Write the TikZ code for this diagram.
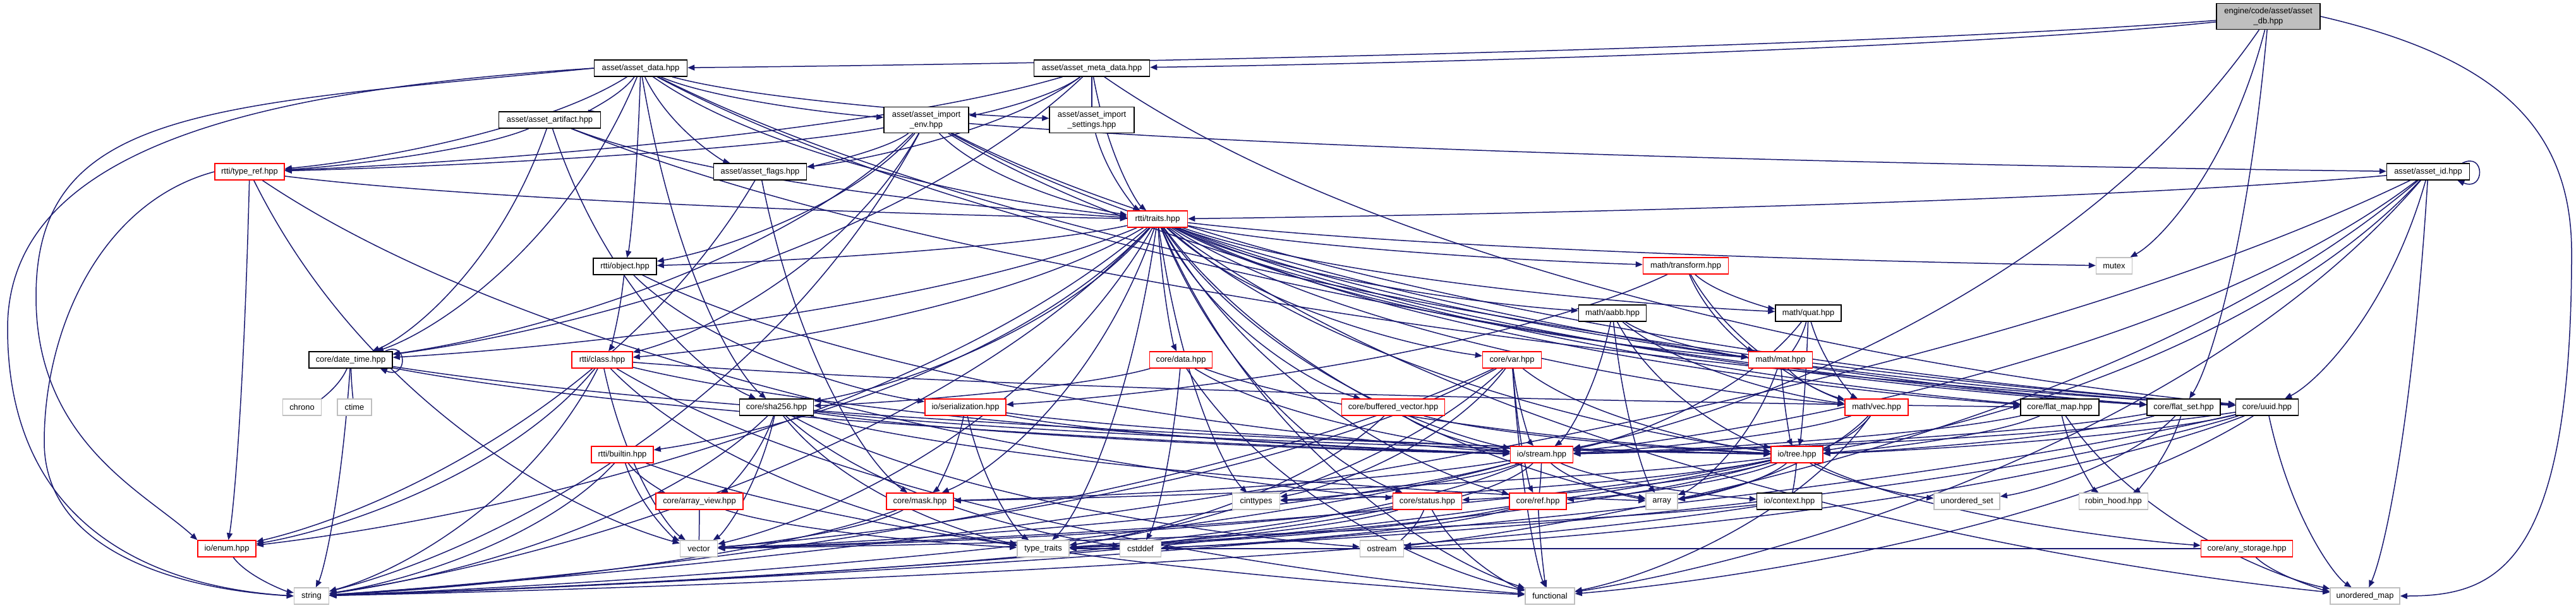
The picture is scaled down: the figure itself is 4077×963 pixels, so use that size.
\documentclass[tikz,border=0pt]{standalone}
\usepackage{fontspec}
\setmainfont{Liberation Sans}
\usetikzlibrary{arrows.meta,calc}
\pgfdeclarelayer{bg}
\pgfsetlayers{bg,main}
\definecolor{edgec}{HTML}{191970}
\definecolor{sysc}{HTML}{BFBFBF}
\definecolor{redc}{HTML}{FF0000}
\newcommand\edgeto[2]{%
  \coordinate (ea) at ($(#1.center)!0.25!(#2.center)$);
  \coordinate (eb) at ($(#1.center)!0.6!(#2.center)$);
  \coordinate (ec) at ($(#1.center)!0.7!(#2.center)$);
  \coordinate (ed) at ($(#1.center)!0.9!(#2.center)$);
  \draw[edge] (#1) .. controls (ea |- eb) and (ec |- ed) .. (#2);}
\begin{document}
\begin{tikzpicture}[x=0.5pt,y=-0.5pt,font=\fontsize{6.45pt}{7.7pt}\selectfont,
  nd/.style={draw=black,fill=white,line width=0.75pt,minimum height=13pt,inner sep=0pt,align=center},
  two/.style={minimum height=20.5pt},
  rd/.style={nd,draw=redc},
  sy/.style={nd,draw=sysc},
  edge/.style={draw=edgec,line width=0.75pt,-{Triangle[length=5.5pt,width=4.5pt]}}]
\useasboundingbox (0,0) rectangle (4077,963);
\begin{pgfonlayer}{bg}
\fill[white] (0,0) rectangle (4077,963);
\end{pgfonlayer}
% nodes
\node[nd,two,fill=sysc,minimum width=82pt] (db) at (3590,26) {engine/code/asset/asset\\\_db.hpp};
\node[nd,minimum width=73.5pt] (adata) at (1014,108) {asset/asset\_data.hpp};
\node[nd,minimum width=91.5pt] (meta) at (1728,108) {asset/asset\_meta\_data.hpp};
\node[nd,minimum width=80.5pt] (artifact) at (870,190) {asset/asset\_artifact.hpp};
\node[nd,two,minimum width=67pt] (ienv) at (1466,190) {asset/asset\_import\\\_env.hpp};
\node[nd,two,minimum width=67pt] (iset) at (1728,190) {asset/asset\_import\\\_settings.hpp};
\node[nd,minimum width=73.5pt] (flags) at (1203,272) {asset/asset\_flags.hpp};
\node[rd,minimum width=55pt] (typeref) at (395,272) {rtti/type\_ref.hpp};
\node[nd,minimum width=65.5pt] (aid) at (3843,272) {asset/asset\_id.hpp};
\node[rd,minimum width=47.5pt] (traits) at (1832,347) {rtti/traits.hpp};
\node[nd,minimum width=50pt] (object) at (989,422) {rtti/object.hpp};
\node[rd,minimum width=67.5pt] (transform) at (2668,421) {math/transform.hpp};
\node[sy,minimum width=28.5pt] (mutex) at (3346,421) {mutex};
\node[nd,minimum width=53.5pt] (aabb) at (2552,496) {math/aabb.hpp};
\node[nd,minimum width=52pt] (quat) at (2862,496) {math/quat.hpp};
\node[nd,minimum width=66pt] (dtime) at (555,570) {core/date\_time.hpp};
\node[rd,minimum width=48pt] (klass) at (953,570) {rtti/class.hpp};
\node[rd,minimum width=49.5pt] (data) at (1869,570) {core/data.hpp};
\node[rd,minimum width=46.5pt] (var) at (2393,570) {core/var.hpp};
\node[rd,minimum width=50.5pt] (mat) at (2818,570) {math/mat.hpp};
\node[sy,minimum width=30.5pt] (chrono) at (478,645) {chrono};
\node[sy,minimum width=27pt] (ctime) at (561,645) {ctime};
\node[nd,minimum width=58.5pt] (sha) at (1229,645) {core/sha256.hpp};
\node[rd,minimum width=64pt] (ser) at (1528,645) {io/serialization.hpp};
\node[rd,minimum width=81.5pt] (bufvec) at (2205,645) {core/buffered\_vector.hpp};
\node[rd,minimum width=50pt] (vec) at (2970,645) {math/vec.hpp};
\node[nd,minimum width=62pt] (fmap) at (3260,645) {core/flat\_map.hpp};
\node[nd,minimum width=58pt] (fset) at (3456,645) {core/flat\_set.hpp};
\node[nd,minimum width=49.5pt] (uuid) at (3588,645) {core/uuid.hpp};
\node[rd,minimum width=49pt] (builtin) at (985,720) {rtti/builtin.hpp};
\node[rd,minimum width=49.5pt] (stream) at (2440,720) {io/stream.hpp};
\node[rd,minimum width=41pt] (tree) at (2844,720) {io/tree.hpp};
\node[rd,minimum width=69pt] (aview) at (1107,794) {core/array\_view.hpp};
\node[rd,minimum width=53pt] (mask) at (1456,794) {core/mask.hpp};
\node[sy,minimum width=37.5pt] (cint) at (1988,794) {cinttypes};
\node[rd,minimum width=54.5pt] (status) at (2259,794) {core/status.hpp};
\node[rd,minimum width=45pt] (ref) at (2434,794) {core/ref.hpp};
\node[sy,minimum width=25pt] (array) at (2630,794) {array};
\node[nd,minimum width=51.5pt] (context) at (2832,794) {io/context.hpp};
\node[sy,minimum width=52pt] (uset) at (3113,794) {unordered\_set};
\node[sy,minimum width=54.5pt] (robin) at (3345,794) {robin\_hood.hpp};
\node[rd,minimum width=46pt] (enum) at (359,869) {io/enum.hpp};
\node[sy,minimum width=29.5pt] (vector) at (1106,869) {vector};
\node[sy,minimum width=41pt] (ttraits) at (1651,869) {type\_traits};
\node[sy,minimum width=32.5pt] (cstddef) at (1805,869) {cstddef};
\node[sy,minimum width=34.5pt] (ostream) at (2187,869) {ostream};
\node[rd,minimum width=72.5pt] (anyst) at (3556,869) {core/any\_storage.hpp};
\node[sy,minimum width=27.5pt] (string) at (493,944) {string};
\node[sy,minimum width=39pt] (functional) at (2453,944) {functional};
\node[sy,minimum width=55pt] (umap) at (3743,944) {unordered\_map};
% edges
\begin{pgfonlayer}{bg}
\foreach \s/\t in {db/adata,db/meta,db/mutex,db/fset,db/stream,
 meta/ienv,meta/iset,meta/flags,meta/typeref,meta/traits,meta/uuid,meta/dtime,
 adata/artifact,adata/ienv,adata/iset,adata/flags,adata/typeref,adata/object,adata/dtime,adata/sha,adata/traits,adata/uuid,adata/fset,
 artifact/typeref,artifact/traits,artifact/sha,artifact/uuid,artifact/dtime,
 ienv/typeref,ienv/flags,ienv/traits,ienv/object,ienv/dtime,ienv/klass,ienv/aid,ienv/uuid,ienv/fset,ienv/fmap,ienv/string,
 iset/traits,flags/enum,flags/mask,
 typeref/traits,typeref/enum,typeref/status,typeref/vector,
 aid/traits,aid/uuid,aid/stream,aid/tree,aid/string,aid/functional,aid/ostream,aid/umap,
 traits/object,traits/transform,traits/mutex,traits/aabb,traits/quat,traits/mat,traits/vec,traits/dtime,traits/klass,traits/builtin,traits/sha,traits/data,traits/var,traits/bufvec,traits/stream,traits/tree,traits/mask,traits/enum,traits/fmap,traits/fset,traits/uuid,traits/ttraits,traits/string,traits/vector,traits/cint,traits/array,traits/umap,traits/functional,traits/ref,traits/status,
 object/klass,object/ser,object/stream,
 transform/ser,transform/mat,transform/quat,transform/vec,
 aabb/stream,aabb/array,aabb/vec,aabb/mat,aabb/tree,
 quat/mat,quat/vec,quat/stream,quat/tree,
 mat/vec,mat/array,mat/tree,
 vec/stream,vec/tree,vec/array,vec/functional,
 data/sha,data/cstddef,data/stream,data/tree,data/functional,
 var/stream,var/ref,var/functional,var/tree,var/cint,var/ttraits,var/vector,var/string,
 bufvec/stream,bufvec/tree,bufvec/ttraits,
 sha/aview,sha/ttraits,sha/cstddef,sha/string,sha/stream,sha/tree,sha/array,sha/ostream,sha/vector,
 ser/mask,ser/ttraits,ser/stream,ser/tree,
 klass/fmap,klass/string,klass/vector,klass/ttraits,klass/functional,klass/stream,klass/enum,
 builtin/aview,builtin/vector,builtin/string,builtin/functional,
 stream/status,stream/ref,stream/array,stream/context,stream/cint,stream/string,stream/vector,stream/ttraits,stream/mask,
 tree/status,tree/ref,tree/array,tree/context,tree/cint,tree/mask,tree/uset,tree/anyst,tree/string,tree/ttraits,tree/vector,
 aview/vector,aview/ttraits,mask/vector,mask/string,
 status/ostream,status/string,status/functional,status/vector,status/ttraits,
 ref/functional,ref/ttraits,ref/cstddef,context/string,context/vector,
 fmap/robin,fmap/umap,fmap/tree,fmap/stream,
 fset/robin,fset/uset,fset/tree,fset/stream,
 uuid/tree,uuid/stream,uuid/string,uuid/functional,uuid/ostream,uuid/cstddef,uuid/umap,
 anyst/umap,anyst/ttraits,enum/string,
 dtime/chrono,dtime/ctime,dtime/string,dtime/stream,dtime/tree}
 {\edgeto{\s}{\t}}
% long routed edges
\draw[edge] (adata.west) .. controls (330,168) and (57,170) .. (57,470) .. controls (57,700) and (230,780) .. (enum.north west);
\draw[edge] (adata.west) .. controls (450,140) and (12,220) .. (12,520) .. controls (12,840) and (250,930) .. (string.west);
\draw[edge] (typeref.west) .. controls (160,320) and (70,520) .. (70,700) .. controls (70,880) and (300,935) .. (string.west);
\draw[edge] (db.east) .. controls (3950,90) and (4070,200) .. (4070,400) .. controls (4070,900) and (3950,944) .. (umap.east);
% self loops
\draw[edge] ([xshift=-6pt]dtime.north east) .. controls +(18pt,9pt) and +(22pt,-9pt) .. ([xshift=-10pt]dtime.south east);
\draw[edge] ([xshift=-6pt]aid.north east) .. controls +(18pt,9pt) and +(22pt,-9pt) .. ([xshift=-10pt]aid.south east);
\end{pgfonlayer}
\end{tikzpicture}
\end{document}
